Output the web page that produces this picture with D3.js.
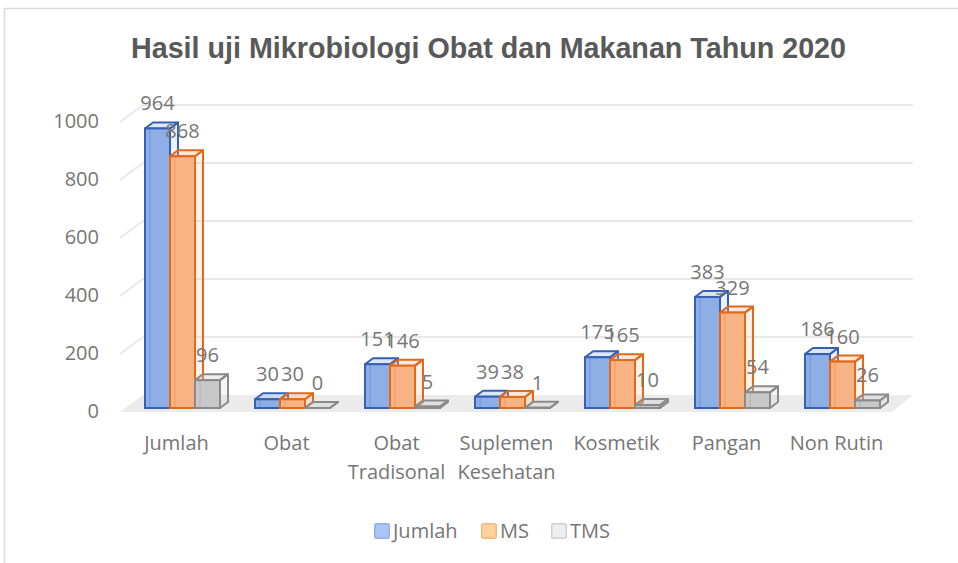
<!DOCTYPE html>
<html>
<head>
<meta charset="utf-8">
<script src="https://cdn.jsdelivr.net/npm/d3@7"></script>
<style>
  body { margin: 0; background: #fff; }
  text { font-family: "Open Sans", sans-serif; }
</style>
</head>
<body>
<script>
const width = 958;
const height = 563;

const categories = ['Jumlah', 'Obat', 'Obat Tradisonal', 'Suplemen Kesehatan', 'Kosmetik', 'Pangan', 'Non Rutin'];
const series = ['Jumlah', 'MS', 'TMS'];
const jumlah = [964, 30, 151, 39, 175, 383, 186];
const ms = [868, 30, 146, 38, 165, 329, 160];
const tms = [96, 0, 5, 1, 10, 54, 26];
const yTicks = [0, 200, 400, 600, 800, 1000];

const fills = ['#8eaee6', '#f7b384', '#c8c8c8'];
const strokes = ['#3560b5', '#e06a1c', '#8a8a8a'];
const legendFills = ['#a9c4f5', '#fdd29b', '#eeeeee'];
const legendStrokes = ['#8fb0e8', '#f6b680', '#cfcfcf'];
const textColor = '#767676';

// depth of the 3d look
const dx = 8, dy = -6;          // bars
const wx = 23, wy = -13;        // back wall vs floor front

const data = categories.map((c, i) => ({ cat: c, values: [jumlah[i], ms[i], tms[i]] }));

const svg = d3.select('body')
    .append('svg')
    .attr('width', width)
    .attr('height', height);

// chart frame
svg.append('rect')
    .attr('x', 4.5).attr('y', 8.5)
    .attr('width', 1000).attr('height', 600)
    .attr('fill', 'none')
    .attr('stroke', '#d9d9d9')
    .attr('stroke-width', 1.5);

let x0 = d3.scaleBand()
    .domain(categories)
    .range([127.5, 897.5]);

let x1 = d3.scaleBand()
    .domain(series)
    .range([17.5, 92.5]);

let y = d3.scaleLinear()
    .domain([0, 1000])
    .range([408, 118]);

// floor
const fx0 = 120, fx1 = 892;
svg.append('polygon')
    .attr('points', [[fx0, y(0) + 4], [fx0 + wx, y(0) + 4 + wy - 4], [fx1 + wx - 2, y(0) + 4 + wy - 4], [fx1, y(0) + 4]].join(' '))
    .attr('fill', '#ebebeb');

// gridlines on back wall + side slant
const grid = svg.append('g');
yTicks.filter(t => t > 0).forEach(t => {
    let yb = y(t) + wy;
    grid.append('line')
        .attr('x1', fx0 + wx).attr('x2', fx1 + wx - 2)
        .attr('y1', yb).attr('y2', yb)
        .attr('stroke', '#e8e8e8').attr('stroke-width', 2);
    grid.append('line')
        .attr('x1', fx0).attr('x2', fx0 + wx)
        .attr('y1', yb + 17).attr('y2', yb)
        .attr('stroke', '#e8e8e8').attr('stroke-width', 2);
});

// y tick labels
svg.append('g')
    .selectAll('text')
    .data(yTicks)
    .enter()
    .append('text')
    .attr('x', 99)
    .attr('y', d => y(d) + wy + 16)
    .attr('dy', '0.35em')
    .attr('text-anchor', 'end')
    .attr('font-size', 20)
    .attr('fill', textColor)
    .text(d => d);

// title
svg.append('text')
    .attr('x', 131)
    .attr('y', 58)
    .attr('font-family', '"Liberation Sans", Arial, sans-serif')
    .style('font-family', '"Liberation Sans", Arial, sans-serif')
    .attr('font-weight', 'bold')
    .attr('font-size', 29)
    .attr('fill', '#595959')
    .attr('textLength', 715)
    .attr('lengthAdjust', 'spacingAndGlyphs')
    .text('Hasil uji Mikrobiologi Obat dan Makanan Tahun 2020');

// bars
const groups = svg.selectAll('.group')
    .data(data)
    .enter()
    .append('g')
    .attr('class', 'group')
    .attr('transform', d => `translate(${x0(d.cat)},0)`);

const bw = x1.bandwidth();

const bars = groups.selectAll('.bar')
    .data(d => d.values.map((v, i) => ({ v: v, s: series[i], i: i })))
    .enter()
    .append('g')
    .attr('class', 'bar');

// side face
bars.append('polygon')
    .attr('points', d => {
        let x = x1(d.s), yt = y(d.v), yb = y(0);
        return [[x + bw, yt], [x + bw + dx, yt + dy], [x + bw + dx, yb + dy], [x + bw, yb]].join(' ');
    })
    .attr('fill', d => fills[d.i])
    .attr('fill-opacity', 0.18)
    .attr('stroke', d => strokes[d.i])
    .attr('stroke-width', 2)
    .attr('stroke-linejoin', 'round');

// top face
bars.append('polygon')
    .attr('points', d => {
        let x = x1(d.s), yt = y(d.v);
        return [[x, yt], [x + dx, yt + dy], [x + bw + dx, yt + dy], [x + bw, yt]].join(' ');
    })
    .attr('fill', d => fills[d.i])
    .attr('fill-opacity', 0.3)
    .attr('stroke', d => strokes[d.i])
    .attr('stroke-width', 2)
    .attr('stroke-linejoin', 'round');

// front face
bars.append('rect')
    .attr('x', d => x1(d.s))
    .attr('y', d => y(d.v))
    .attr('width', bw)
    .attr('height', d => y(0) - y(d.v))
    .attr('fill', d => fills[d.i])
    .attr('stroke', d => strokes[d.i])
    .attr('stroke-width', 2);

// inner edge line on the front (light highlight)
bars.append('line')
    .attr('x1', d => x1(d.s) + 5).attr('x2', d => x1(d.s) + 5)
    .attr('y1', d => y(d.v) + 1).attr('y2', y(0) - 1)
    .attr('stroke', d => strokes[d.i])
    .attr('stroke-opacity', 0.35)
    .attr('stroke-width', 1);

// data labels
groups.selectAll('.lbl')
    .data(d => d.values.map((v, i) => ({ v: v, s: series[i] })))
    .enter()
    .append('text')
    .attr('class', 'lbl')
    .attr('x', d => x1(d.s) + bw / 2)
    .attr('y', d => y(d.v) - 18)
    .attr('text-anchor', 'middle')
    .attr('font-size', 20)
    .attr('fill', textColor)
    .text(d => d.v);

// category labels
const catLabels = svg.append('g')
    .selectAll('text')
    .data(categories)
    .enter()
    .append('text')
    .attr('x', d => x0(d) + x0.bandwidth() / 2 - 6)
    .attr('y', 443)
    .attr('dy', '0.35em')
    .attr('text-anchor', 'middle')
    .attr('font-size', 20)
    .attr('fill', textColor)
    .text(d => d);

catLabels.each(function(d) {
    let t = d3.select(this);
    if (this.getComputedTextLength() > 100 && d.includes(' ')) {
        let words = d.split(' ');
        let cx = t.attr('x');
        t.text(null);
        words.forEach((w, k) => {
            t.append('tspan')
                .attr('x', cx)
                .attr('dy', k === 0 ? '0.35em' : '29')
                .text(w);
        });
        t.attr('dy', null);
    }
});

// legend
const legendX = [374, 481, 551];
const legend = svg.append('g')
    .selectAll('g')
    .data(series)
    .enter()
    .append('g')
    .attr('transform', (d, i) => `translate(${legendX[i]},523)`);

legend.append('rect')
    .attr('x', 0.75).attr('y', 0.75)
    .attr('width', 14.5).attr('height', 14.5)
    .attr('rx', 2)
    .attr('fill', (d, i) => legendFills[i])
    .attr('stroke', (d, i) => legendStrokes[i])
    .attr('stroke-width', 1.5);

legend.append('text')
    .attr('x', 19)
    .attr('y', 8)
    .attr('dy', '0.35em')
    .attr('font-size', 20)
    .attr('fill', textColor)
    .text(d => d);
</script>
</body>
</html>
